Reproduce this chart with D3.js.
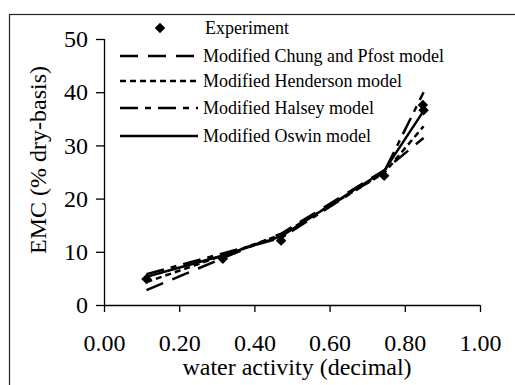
<!DOCTYPE html>
<html lang="en">
<head>
<meta charset="utf-8">
<title>EMC chart</title>
<script src="https://cdn.jsdelivr.net/npm/d3@7"></script>
<style>
  body { margin: 0; background: #fff; }
  svg text { font-family: "Liberation Serif", Tinos, "Times New Roman", Times, serif !important; fill: #000; }
</style>
</head>
<body>
<script>
// data
var expAw = [0.113, 0.316, 0.471, 0.745, 0.848, 0.850];
var expEmc = [4.9, 8.7, 12.1, 24.3, 37.6, 36.6];

var modelAw = [0.113, 0.316, 0.471, 0.745, 0.850];
var chungPfost = [2.8, 8.8, 13.4, 25.3, 31.4];
var henderson = [4.3, 9.3, 13.2, 24.8, 33.6];
var halsey = [5.8, 9.7, 12.6, 25.0, 40.0];
var oswin = [5.3, 9.3, 12.9, 25.2, 36.5];

var xTicks = [0, 0.2, 0.4, 0.6, 0.8, 1.0];
var yTicks = [0, 10, 20, 30, 40, 50];

var legendNames = ["Experiment", "Modified Chung and Pfost model", "Modified Henderson model",
                   "Modified Halsey model", "Modified Oswin model"];

var w = 515, h = 385;
var svg = d3.select("body").append("svg").attr("width", w).attr("height", h);

// outer frame
svg.append("rect")
  .attr("x", 9.5).attr("y", 14.5)
  .attr("width", 520).attr("height", 380)
  .attr("fill", "none").attr("stroke", "#222").attr("stroke-width", 1.2);

var x = d3.scaleLinear().domain([0, 1]).range([104, 480]);
var y = d3.scaleLinear().domain([0, 50]).range([305, 39]);

// axes
var xAxis = svg.append("g")
  .attr("transform", "translate(0," + y(0) + ")")
  .call(d3.axisBottom(x).tickValues(xTicks).tickFormat(d3.format(".2f")).tickSize(7).tickPadding(22));
var yAxis = svg.append("g")
  .attr("transform", "translate(" + x(0) + ",0)")
  .call(d3.axisLeft(y).tickValues(yTicks).tickSize(8).tickPadding(8));

[xAxis, yAxis].forEach(function(g) {
  g.attr("font-family", null);
  g.select(".domain").attr("stroke", "#000").attr("stroke-width", 1.3);
  g.selectAll(".tick line").attr("stroke", "#000").attr("stroke-width", 1.3);
  g.selectAll(".tick text").attr("font-size", 24);
});
yAxis.select(".domain").attr("d", "M0.5," + y(0) + "V" + y(50));
xAxis.select(".domain").attr("d", "M" + x(0) + ",0.5H" + x(1));

// axis titles
svg.append("text")
  .attr("x", 297).attr("y", 375)
  .attr("text-anchor", "middle")
  .attr("font-size", 24)
  .text("water activity (decimal)");

svg.append("text")
  .attr("transform", "translate(46,160) rotate(-90)")
  .attr("text-anchor", "middle")
  .attr("font-size", 24)
  .text("EMC (% dry-basis)");

// model lines
var dashes = ["18,10", "6,4", "18,7,6,7", null];
var models = [chungPfost, henderson, halsey, oswin];

var line = d3.line()
  .x(function(d) { return x(d[0]); })
  .y(function(d) { return y(d[1]); });

models.forEach(function(m, k) {
  svg.append("path")
    .datum(d3.zip(modelAw, m))
    .attr("d", line)
    .attr("fill", "none")
    .attr("stroke", "#000")
    .attr("stroke-width", 2.5)
    .attr("stroke-dasharray", dashes[k]);
});

// experiment points (diamonds)
var diamond = d3.symbol().type(d3.symbolDiamond2).size(70);
svg.selectAll(".pt")
  .data(d3.zip(expAw, expEmc))
  .enter()
  .append("path")
  .attr("class", "pt")
  .attr("transform", function(d) { return "translate(" + x(d[0]) + "," + y(d[1]) + ")"; })
  .attr("d", diamond)
  .attr("fill", "#000");

// legend
var legY = [28, 56, 81, 108, 136];
var leg = svg.append("g");
leg.append("path")
  .attr("transform", "translate(160," + legY[0] + ")")
  .attr("d", diamond)
  .attr("fill", "#000");
for (var i = 1; i < 5; i++) {
  leg.append("line")
    .attr("x1", 120).attr("x2", 198)
    .attr("y1", legY[i]).attr("y2", legY[i])
    .attr("stroke", "#000").attr("stroke-width", 2.5)
    .attr("stroke-dasharray", dashes[i - 1]);
}
leg.selectAll("text")
  .data(legendNames)
  .enter()
  .append("text")
  .attr("x", function(d, i) { return i == 0 ? 205 : 203; })
  .attr("y", function(d, i) { return legY[i]; })
  .attr("dy", "0.35em")
  .attr("font-size", 18)
  .text(function(d) { return d; });
</script>
</body>
</html>
